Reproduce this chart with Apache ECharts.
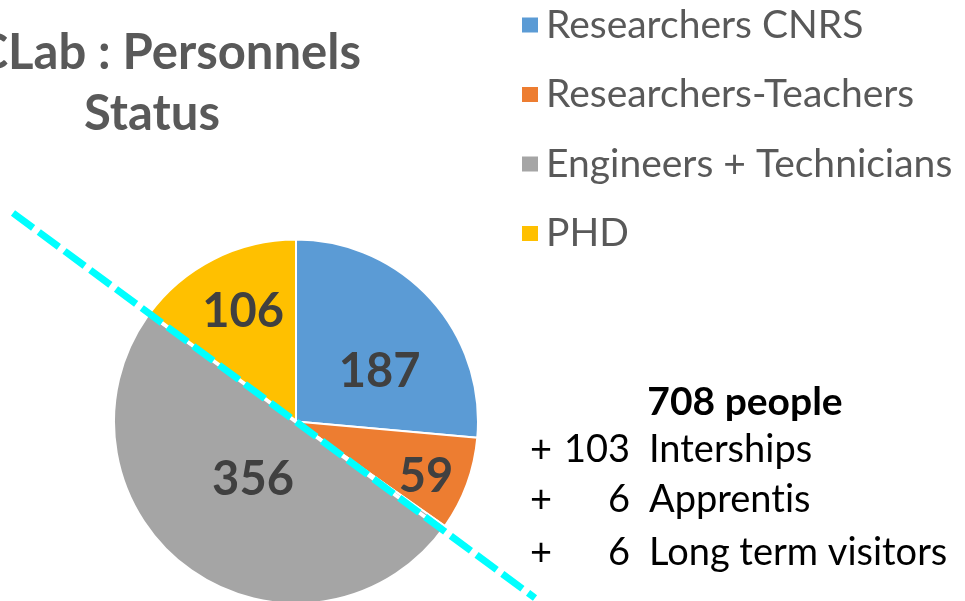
<!DOCTYPE html>
<html><head><meta charset="utf-8">
<script src="https://cdn.jsdelivr.net/npm/echarts@6/dist/echarts.min.js"></script>
<style>html,body{margin:0;padding:0;background:#fff;overflow:hidden}#c{width:965px;height:601px}</style>
</head><body><div id="c"></div>
<script>
// ---- data ----
const categories = ['Researchers CNRS', 'Researchers-Teachers', 'Engineers + Technicians', 'PHD'];
const values = [187, 59, 356, 106];
const titleLine1 = 'CLab : Personnels';
const titleLine2 = 'Status';
const totalText = '708 people';
const extraPrefix = ['+', '+', '+'];
const extraCounts = ['103', '6', '6'];
const extraNames = ['Interships', 'Apprentis', 'Long term visitors'];

// ---- style ----
const colors = ['#5B9BD5', '#ED7D31', '#A5A5A5', '#FFC000'];
// placement of each value label: fraction of radius, angle (deg, clockwise from top)
const labelPolarR = [0.535, 0.777, 0.399, 0.671];
const labelPolarAngle = [59.1, 113.1, 216.3, 334.3];
const FONT = 'Lato';
const CX = 296, CY = 421.5, R = 182;

// break the "ti" ligature of Lato so the glyphs look like the reference
const noLig = s => s.replace(/ti/g, 't\u200Ci').replace(/fi/g, 'f\u200Ci');

const chart = echarts.init(document.getElementById('c'), null, {renderer: 'canvas'});

const extraGraphics = [];
const rowY = [450, 500, 553];
extraCounts.forEach((n, i) => {
  const base = {fontFamily: FONT, fontSize: 38, fill: '#000', verticalAlign: 'middle'};
  extraGraphics.push({type: 'text', x: 530, y: rowY[i], style: Object.assign({text: extraPrefix[i], align: 'left'}, base)});
  extraGraphics.push({type: 'text', x: 630, y: rowY[i], style: Object.assign({text: n, align: 'right'}, base)});
  extraGraphics.push({type: 'text', x: 649, y: rowY[i], style: Object.assign({text: noLig(extraNames[i]), align: 'left'}, base)});
});

const option = {
  backgroundColor: '#fff',
  animation: false,
  color: colors,
  legend: {
    orient: 'vertical',
    left: 515,
    top: 0,
    icon: 'rect',
    itemWidth: 18,
    itemHeight: 17,
    itemGap: 29.5,
    formatter: name => noLig(name),
    textStyle: {fontFamily: FONT, fontSize: 39, color: '#595959', lineHeight: 40, padding: [0, 0, 0, 2]},
    data: categories
  },
  graphic: [
    {type: 'text', x: 361, y: 53, style: {text: titleLine1, align: 'right', verticalAlign: 'middle', fontFamily: FONT, fontWeight: 'bold', fontSize: 49, fill: '#595959'}},
    {type: 'text', x: 152, y: 114, style: {text: titleLine2, align: 'center', verticalAlign: 'middle', fontFamily: FONT, fontWeight: 'bold', fontSize: 49, fill: '#595959'}},
    {type: 'line', z: 100, shape: {x1: 13, y1: 213, x2: 535, y2: 598}, style: {stroke: '#ffffff', lineWidth: 4}},
    {type: 'line', z: 101, shape: {x1: 13, y1: 213, x2: 535, y2: 598}, style: {stroke: '#00FFFF', lineWidth: 7, lineDash: [25, 7]}},
    {type: 'text', x: 745, y: 402, style: {text: totalText, align: 'center', verticalAlign: 'middle', fontFamily: FONT, fontWeight: 'bold', fontSize: 39, fill: '#000'}}
  ].concat(extraGraphics),
  series: [{
    type: 'pie',
    center: [CX, CY],
    radius: [0, R],
    startAngle: 90,
    clockwise: true,
    avoidLabelOverlap: false,
    itemStyle: {borderColor: '#fff', borderWidth: 2},
    label: {
      show: true,
      position: 'inside',
      formatter: '{c}',
      fontFamily: FONT,
      fontWeight: 'bold',
      fontSize: 47,
      color: '#404040'
    },
    labelLine: {show: false},
    emphasis: {disabled: true},
    labelLayout: function (p) {
      const r = p.labelRect;
      const lx = r.x + r.width / 2, ly = r.y + r.height / 2;
      const i = p.dataIndex;
      const a = labelPolarAngle[i] * Math.PI / 180;
      const tx = CX + Math.sin(a) * labelPolarR[i] * R;
      const ty = CY - Math.cos(a) * labelPolarR[i] * R;
      return {dx: tx - lx, dy: ty - ly};
    },
    data: categories.map((name, i) => ({name: name, value: values[i]}))
  }]
};
chart.setOption(option);
</script>
</body></html>
